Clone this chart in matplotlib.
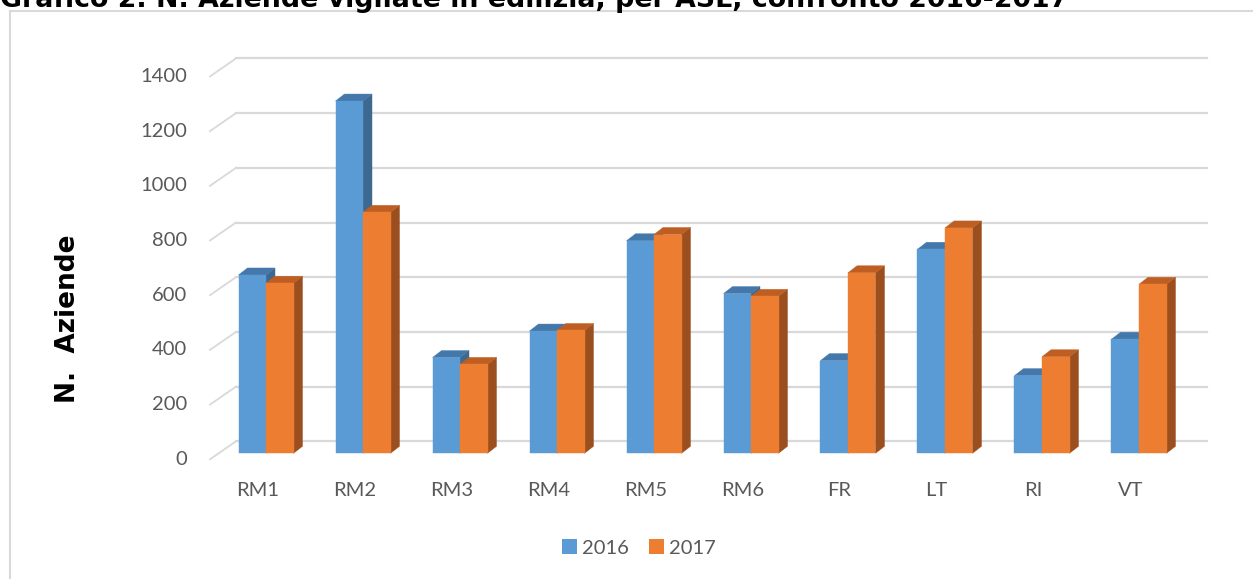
import matplotlib
matplotlib.use("Agg")
import matplotlib.pyplot as plt
from matplotlib.patches import Polygon, Rectangle, Patch
from matplotlib.lines import Line2D

# ---------------- data ----------------
categories = ["RM1", "RM2", "RM3", "RM4", "RM5", "RM6", "FR", "LT", "RI", "VT"]
series_names = ["2016", "2017"]
values_2016 = [652, 1288, 350, 447, 777, 584, 339, 746, 284, 417]
values_2017 = [622, 881, 325, 449, 800, 574, 660, 824, 353, 618]
y_ticks = [0, 200, 400, 600, 800, 1000, 1200, 1400]
title = "Grafico 2. N. Aziende vigilate in edilizia, per ASL, confronto 2016-2017"
y_title = "N.  Aziende"

# ---------------- layout constants (pixels) ----------------
W_PX, H_PX = 1253, 579
X0, PPC = 266.0, 97.0       # pixel x of category 0 centre (bar-face plane), px per category
Y0, PPV = 453.3, 0.2735     # pixel y of value 0 (bar-face plane), px per value unit

face_col = ["#5B9BD5", "#ED7D31"]
top_col = ["#4478AA", "#BF5E22"]
side_col = ["#3D6991", "#9B4F1E"]
grid_col = "#D9D9D9"
text_col = "#595959"

fig = plt.figure(figsize=(W_PX / 100, H_PX / 100), dpi=100)
ax = fig.add_axes([0, 0, 1, 1])
ax.set_xlim((0 - X0) / PPC, (W_PX - X0) / PPC)
ax.set_ylim((Y0 - H_PX) / PPV, Y0 / PPV)
ax.axis("off")

def dx(px):
    return px / PPC

def dv(px):
    return px / PPV

# plane offsets relative to bar face plane
front_dx, front_dv = dx(-8.7), dv(-6.0)
back_dv = dv(12.0)
wall_front_x = (210 - X0) / PPC
wall_back_x = (236 - X0) / PPC
grid_end_x = (1207 - X0) / PPC

# gridlines (back wall + left wall diagonals)
for t in y_ticks:
    ax.add_line(Line2D([wall_front_x, wall_back_x], [t + front_dv, t + back_dv],
                       color=grid_col, lw=1.3, zorder=1))
    ax.add_line(Line2D([wall_back_x, grid_end_x], [t + back_dv, t + back_dv],
                       color=grid_col, lw=1.6, zorder=1))
    ax.text((187 - X0) / PPC, t + front_dv, str(t), ha="right", va="center",
            fontsize=14.5, color=text_col, family="Lato")

# bars
BW = dx(27.5)
ddx, ddv = dx(9.0), dv(7.0)
z = 2
for i, cat in enumerate(categories):
    for s, vals in enumerate([values_2016, values_2017]):
        v = vals[i]
        xl = i - BW + s * BW
        side = Polygon([(xl + BW, 0), (xl + BW + ddx, ddv), (xl + BW + ddx, v + ddv), (xl + BW, v)],
                       closed=True, facecolor=side_col[s], edgecolor=side_col[s], lw=0.3, zorder=z)
        top = Polygon([(xl, v), (xl + BW, v), (xl + BW + ddx, v + ddv), (xl + ddx, v + ddv)],
                      closed=True, facecolor=top_col[s], edgecolor=top_col[s], lw=0.3, zorder=z)
        face = Rectangle((xl, 0), BW, v, facecolor=face_col[s], edgecolor=face_col[s],
                         lw=0.3, zorder=z)
        ax.add_patch(side)
        ax.add_patch(top)
        ax.add_patch(face)
        z += 1
    ax.text(i + front_dx, (Y0 - 490) / PPV, cat, ha="center", va="center",
            fontsize=14.5, color=text_col, family="Lato")

# legend
handles = [Patch(facecolor=face_col[k], edgecolor="none") for k in range(2)]
fig.legend(handles, series_names, loc="center", bbox_to_anchor=(639 / W_PX, 1 - 548 / H_PX),
           ncol=2, frameon=False, handlelength=0.75, handleheight=0.75, handletextpad=0.25,
           columnspacing=1.0, prop={"family": "Lato", "size": 14.5}, labelcolor=text_col)

# y title
fig.text(68 / W_PX, 1 - 319 / H_PX, y_title, rotation=90, ha="center", va="center",
         fontsize=19, fontweight="bold", color="black", family="DejaVu Sans")

# chart border (top and left edges visible)
fig.add_artist(Line2D([9.5 / W_PX, 1.0], [1 - 10.5 / H_PX, 1 - 10.5 / H_PX],
                      transform=fig.transFigure, color=grid_col, lw=1.5))
fig.add_artist(Line2D([9.5 / W_PX, 9.5 / W_PX], [0, 1 - 10.5 / H_PX],
                      transform=fig.transFigure, color=grid_col, lw=1.5))

# title (cut at the top of the picture, as in the reference)
fig.text(0 / W_PX, 1 - 7 / H_PX, title, ha="left", va="baseline",
         fontsize=19.3, fontweight="bold", color="black", family="DejaVu Sans")

fig.savefig("out.png", dpi=100)
